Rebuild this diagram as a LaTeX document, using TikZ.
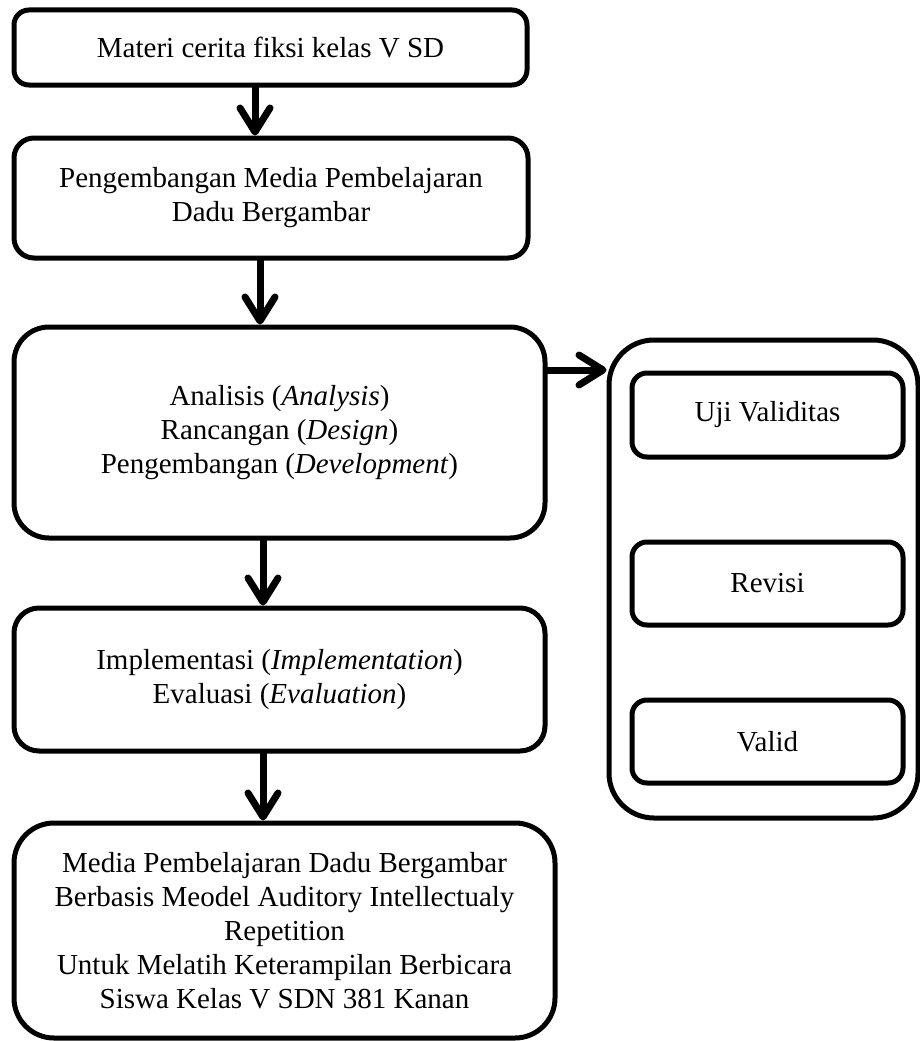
\documentclass[tikz,border=0pt]{standalone}
\usepackage{fontspec}
\setmainfont{Liberation Serif}
\usetikzlibrary{arrows.meta}
\begin{document}
\begin{tikzpicture}[x=1pt,y=-1pt,
  box/.style={draw=black, line width=5pt, rectangle, align=center,
    font=\fontsize{29}{34}\selectfont, inner sep=0pt, fill=white},
  arr/.style={line width=7pt, -{Straight Barb[length=24pt,width=30pt,round]}, shorten <=-1pt}
]
\useasboundingbox (0,0) rectangle (920,1041);
\fill[white] (0,0) rectangle (920,1041);

\node[box, rounded corners=15pt, minimum width=513pt, minimum height=75pt] (b1) at (270.5,47.5) {Materi cerita fiksi kelas V SD};
\node[box, rounded corners=20pt, minimum width=514pt, minimum height=120pt] (b2) at (271,198) {Pengembangan Media Pembelajaran\\Dadu Bergambar};
\node[box, rounded corners=35pt, minimum width=531pt, minimum height=211pt] (b3) at (279.5,432.5) {Analisis (\textit{Analysis})\\Rancangan (\textit{Design})\\Pengembangan (\textit{Development})};
\node[box, rounded corners=25pt, minimum width=531pt, minimum height=143pt] (b4) at (279.5,679.5) {Implementasi (\textit{Implementation})\\Evaluasi (\textit{Evaluation})};
\node[box, rounded corners=40pt, minimum width=541pt, minimum height=215pt] (b5) at (284.5,930.5) {Media Pembelajaran Dadu Bergambar\\Berbasis Meodel Auditory Intellectualy\\Repetition\\Untuk Melatih Keterampilan Berbicara\\Siswa Kelas V SDN 381 Kanan};

\node[box, rounded corners=45pt, minimum width=309pt, minimum height=478pt] (outer) at (763.5,579) {};
\node[box, rounded corners=15pt, minimum width=271pt, minimum height=84pt] (uji) at (767.5,415) {Uji Validitas};
\node[box, rounded corners=15pt, minimum width=271pt, minimum height=83pt] (rev) at (767.5,583.5) {Revisi};
\node[box, rounded corners=15pt, minimum width=271pt, minimum height=83pt] (val) at (767.5,741.5) {Valid};

\draw[arr] ([xshift=-15.5pt]b1.south) -- ([xshift=-16pt]b2.north);
\draw[arr] ([xshift=-11pt]b2.south) -- ([xshift=-19.5pt]b3.north);
\draw[arr] ([xshift=-16.5pt]b3.south) -- ([xshift=-16.5pt]b4.north);
\draw[arr] ([xshift=-16.5pt]b4.south) -- ([xshift=-21.5pt]b5.north);
\draw[arr] ([yshift=62.5pt]b3.east) -- ([yshift=62.5pt]b3.east -| outer.west);
\end{tikzpicture}
\end{document}
